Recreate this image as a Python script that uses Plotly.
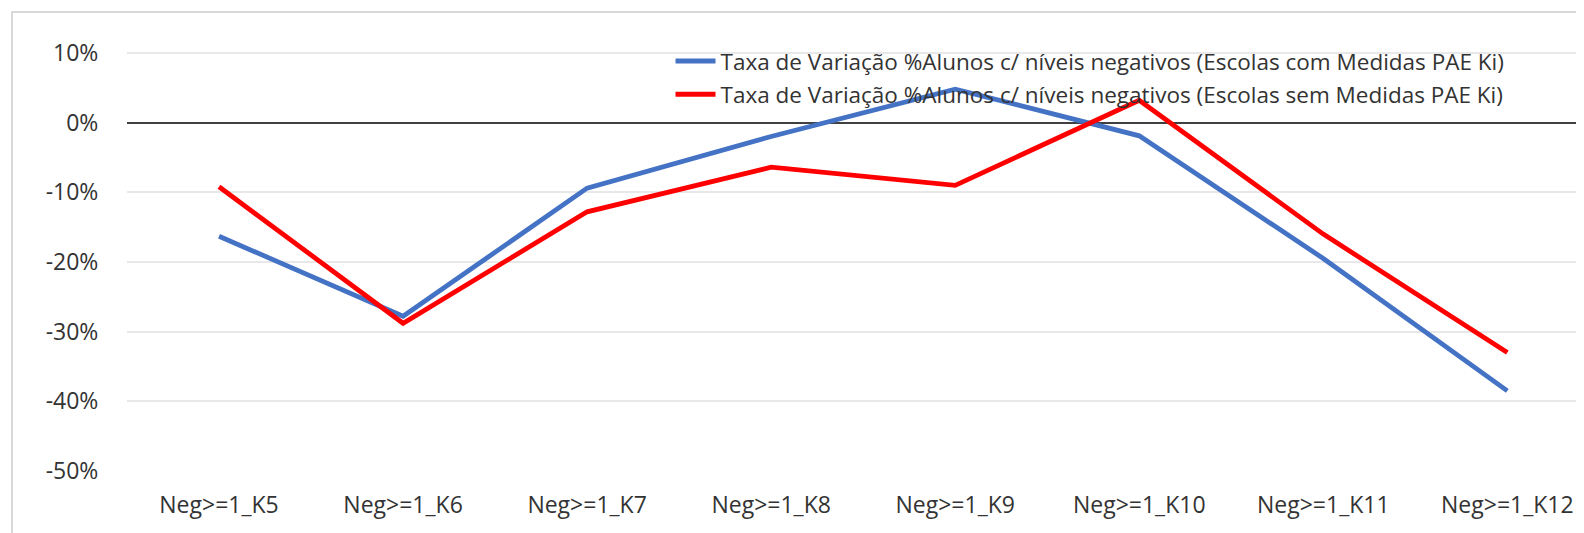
import plotly.graph_objects as go

# ---------------- dados ----------------
categorias = ["Neg>=1_K5", "Neg>=1_K6", "Neg>=1_K7", "Neg>=1_K8",
              "Neg>=1_K9", "Neg>=1_K10", "Neg>=1_K11", "Neg>=1_K12"]
com_medidas = [-0.163, -0.278, -0.094, -0.020, 0.048, -0.019, -0.195, -0.385]
sem_medidas = [-0.092, -0.288, -0.128, -0.064, -0.090, 0.032, -0.160, -0.330]
nome_com = "Taxa de Variação %Alunos c/ níveis negativos (Escolas com Medidas PAE Ki)"
nome_sem = "Taxa de Variação %Alunos c/ níveis negativos (Escolas sem Medidas PAE Ki)"
y_ticks = [0.1, 0.0, -0.1, -0.2, -0.3, -0.4, -0.5]
y_labels = ["10%", "0%", "-10%", "-20%", "-30%", "-40%", "-50%"]

AZUL = "#4472C4"
VERMELHO = "#FF0000"
TEXTO = "#333333"
FONTE = "Open Sans"

fig = go.Figure()
fig.add_trace(go.Scatter(x=categorias, y=com_medidas, name=nome_com, mode="lines",
                         legendgroup="a", line=dict(color=AZUL, width=4.8)))
fig.add_trace(go.Scatter(x=categorias, y=sem_medidas, name=nome_sem, mode="lines",
                         legendgroup="b", line=dict(color=VERMELHO, width=4.8)))

fig.update_layout(
    width=1584, height=533,
    margin=dict(l=119, r=0, t=31, b=70, autoexpand=False),
    paper_bgcolor="white", plot_bgcolor="white",
    font=dict(family=FONTE, color=TEXTO, size=22),
    showlegend=True,
    legend=dict(x=0.371, y=0.998, xanchor="left", yanchor="top",
                bgcolor="rgba(255,255,255,0)", font=dict(size=22.5, color=TEXTO),
                traceorder="grouped", tracegroupgap=1, itemwidth=40),
    shapes=[dict(type="rect", xref="paper", yref="paper",
                 x0=-0.0785, x1=1.2, y0=-0.3, y1=1.0625,
                 line=dict(color="#D9D9D9", width=2), fillcolor="rgba(0,0,0,0)")],
)
fig.update_xaxes(type="category", range=[-0.5, 7.46], showgrid=False, showline=False,
                 zeroline=False, ticks="outside", ticklen=13, tickcolor="rgba(0,0,0,0)",
                 tickfont=dict(size=23, color=TEXTO))
fig.update_yaxes(range=[-0.5, 0.12], tickvals=y_ticks, ticktext=y_labels,
                 showgrid=True, gridcolor="#E8E8E8", gridwidth=1.5,
                 zeroline=True, zerolinecolor="#404040", zerolinewidth=1.5,
                 showline=False, ticks="outside", ticklen=23, tickcolor="rgba(0,0,0,0)",
                 tickfont=dict(size=23, color=TEXTO))

fig.write_html("out.html")
